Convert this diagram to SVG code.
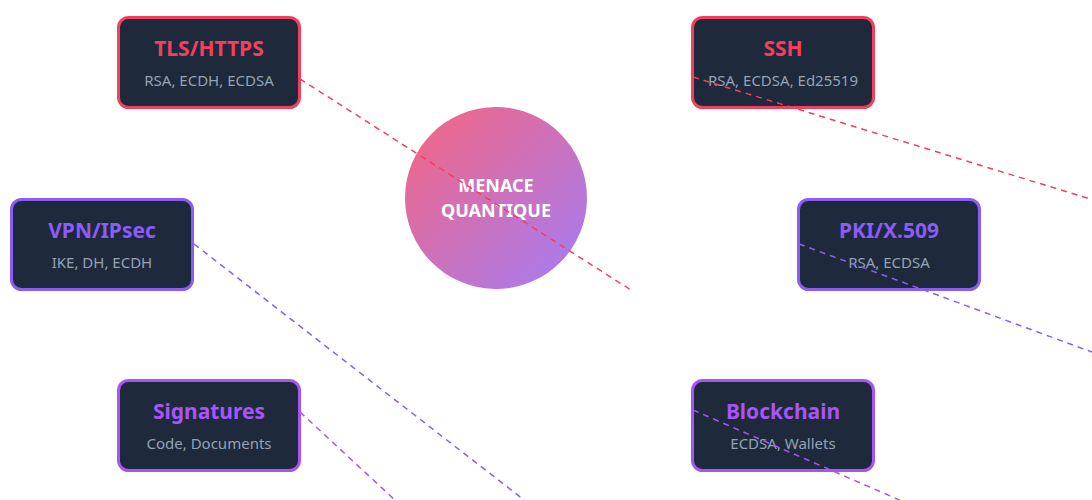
<svg xmlns="http://www.w3.org/2000/svg" width="1092" height="500" viewBox="0 0 1092 500">
<style>
.box{fill:#1e293b;stroke-width:3}
.t{font-family:"Noto Sans","Open Sans",sans-serif;font-weight:700;font-size:21px;text-anchor:middle}
.s{font-family:"Noto Sans","Open Sans",sans-serif;font-size:15px;fill:#94a3b8;text-anchor:middle}
.c{font-family:"Noto Sans","Open Sans",sans-serif;font-weight:700;font-size:18px;fill:#ffffff;text-anchor:middle}
.ln{fill:none;stroke-width:1.5;stroke-dasharray:6 5}
.red{stroke:#f43f5e}
.vio{stroke:#8b5cf6}
.pur{stroke:#a855f7}
</style>
<defs>
<linearGradient id="g" x1="0" y1="0" x2="1" y2="1">
<stop offset="0" stop-color="#f43f5e"/>
<stop offset="1" stop-color="#8b5cf6"/>
</linearGradient>
</defs>
<rect width="1092" height="500" fill="#ffffff"/>
<g id="center">
<circle cx="496" cy="198" r="91" fill="url(#g)" opacity="0.8"/>
<text class="c" x="496" y="192">MENACE</text>
<text class="c" x="496" y="217">QUANTIQUE</text>
</g>
<g id="tls">
<rect class="box" x="118.5" y="17.5" width="181" height="90" rx="10" stroke="#f43f5e"/>
<text class="t" x="209" y="56" fill="#f43f5e">TLS/HTTPS</text>
<text class="s" x="209" y="86">RSA, ECDH, ECDSA</text>
</g>
<g id="ssh">
<rect class="box" x="692.5" y="17.5" width="181" height="90" rx="10" stroke="#f43f5e"/>
<text class="t" x="783" y="56" fill="#f43f5e">SSH</text>
<text class="s" x="783" y="86">RSA, ECDSA, Ed25519</text>
</g>
<g id="vpn">
<rect class="box" x="11.5" y="199.5" width="181" height="90" rx="10" stroke="#8b5cf6"/>
<text class="t" x="102" y="238" fill="#8b5cf6">VPN/IPsec</text>
<text class="s" x="102" y="268">IKE, DH, ECDH</text>
</g>
<g id="pki">
<rect class="box" x="798.5" y="199.5" width="181" height="90" rx="10" stroke="#8b5cf6"/>
<text class="t" x="889" y="238" fill="#8b5cf6">PKI/X.509</text>
<text class="s" x="889" y="268">RSA, ECDSA</text>
</g>
<g id="signatures">
<rect class="box" x="118.5" y="380.5" width="181" height="90" rx="10" stroke="#a855f7"/>
<text class="t" x="209" y="419" fill="#a855f7">Signatures</text>
<text class="s" x="209" y="449">Code, Documents</text>
</g>
<g id="blockchain">
<rect class="box" x="692.5" y="380.5" width="181" height="90" rx="10" stroke="#a855f7"/>
<text class="t" x="783" y="419" fill="#a855f7">Blockchain</text>
<text class="s" x="783" y="449">ECDSA, Wallets</text>
</g>
<g id="connectors">
<line class="ln red" x1="300" y1="79" x2="631" y2="290"/>
<line class="ln red" x1="693" y1="77" x2="1100" y2="202"/>
<line class="ln vio" x1="194" y1="244" x2="528" y2="503"/>
<line class="ln vio" x1="799" y1="244" x2="1100" y2="355"/>
<line class="ln pur" x1="300" y1="412" x2="396" y2="501"/>
<line class="ln pur" x1="693" y1="410" x2="904" y2="502"/>
</g>
</svg>
